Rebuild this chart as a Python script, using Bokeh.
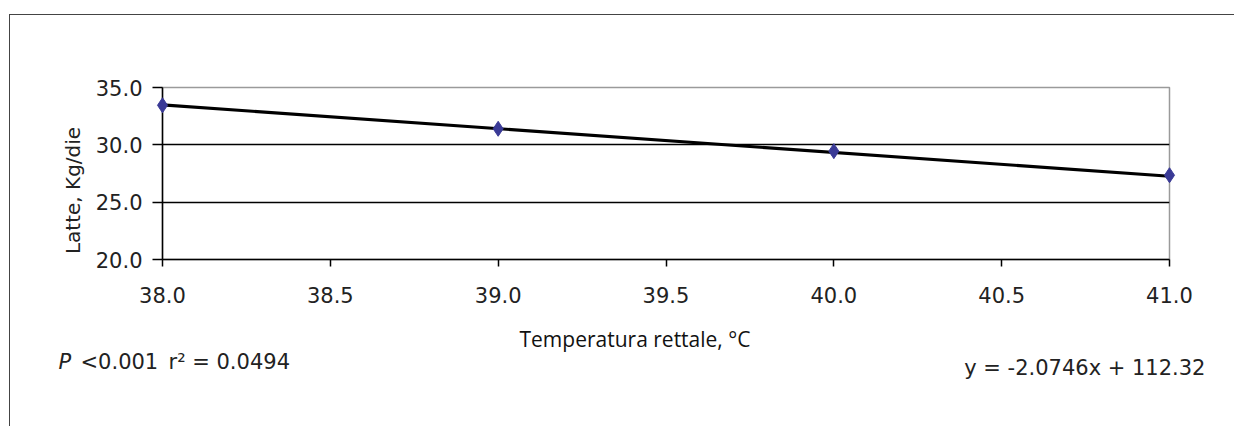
import math
from bokeh.plotting import figure
from bokeh.models import FixedTicker, Label, NumeralTickFormatter, Range1d
from bokeh.embed import file_html
from bokeh.resources import INLINE

# ---- data ----
temp_c = [38.0, 39.0, 40.0, 41.0]
milk_kg = [33.45, 31.4, 29.45, 27.35]
trend_x = [38.0, 41.0]
trend_y = [33.485, 27.261]          # y = -2.0746x + 112.32
x_ticks = [38.0, 38.5, 39.0, 39.5, 40.0, 40.5, 41.0]
y_ticks = [20.0, 25.0, 30.0, 35.0]
grid_y = [25.0, 30.0]
x_title = "Temperatura rettale, °C"
y_title = "Latte, Kg/die"
stat_p = "P"
stat_pval = "<0.001"
stat_r2 = "r² = 0.0494"
equation = "y = -2.0746x + 112.32"

SANS = "DejaVu Sans"
TXT = "#222222"

p = figure(width=1225, height=412, output_backend="svg", toolbar_location=None,
           x_range=Range1d(38.0, 41.0), y_range=Range1d(20.0, 35.0),
           min_border_left=152, min_border_right=66, min_border_top=72,
           min_border_bottom=168)
p.margin = (14, 0, 0, 9)
p.styles = {"border-top": "1.5px solid #444444", "border-left": "1.5px solid #444444"}
p.background_fill_color = "white"
p.border_fill_color = "white"
p.outline_line_color = "#9a9a9a"
p.outline_line_width = 1.5

# grid
p.xgrid.grid_line_color = None
p.ygrid.ticker = FixedTicker(ticks=grid_y)
p.ygrid.grid_line_color = "black"
p.ygrid.grid_line_width = 1.3

for ax in (p.xaxis, p.yaxis):
    ax.axis_line_color = "black"
    ax.axis_line_width = 1.5
    ax.major_tick_line_color = "black"
    ax.major_tick_line_width = 1.5
    ax.major_tick_in = 0
    ax.minor_tick_line_color = None
    ax.major_label_text_font = SANS
    ax.major_label_text_font_size = "21px"
    ax.major_label_text_color = TXT
    ax.formatter = NumeralTickFormatter(format="0.0")

p.xaxis.ticker = FixedTicker(ticks=x_ticks)
p.yaxis.ticker = FixedTicker(ticks=y_ticks)
p.xaxis.major_tick_out = 7
p.yaxis.major_tick_out = 10
p.xaxis.major_label_standoff = 20
p.yaxis.major_label_standoff = 10

# trend line and points (points on overlay level so edge markers are not clipped)
p.line(trend_x, trend_y, line_color="black", line_width=3.2)
p.scatter(temp_c, milk_kg, marker="diamond", size=15, fill_color="#3a3a96",
          line_color="#3a3a96", level="overlay")

# texts outside the frame: placed in side panels so they are not clipped
p.add_layout(Label(x=37.7319, y=26.02, text=y_title, angle=math.pi / 2,
                   text_align="center", text_baseline="middle", text_font=SANS,
                   text_font_size="20px", text_color=TXT), "left")
p.add_layout(Label(x=37.690, y=11.06, text=stat_p, text_font=SANS,
                   text_font_style="italic", text_font_size="21px",
                   text_baseline="alphabetic", text_color=TXT), "left")
p.add_layout(Label(x=39.4076, y=13.08, text=x_title, text_font="Open Sans",
                   text_align="center", text_font_size="21px",
                   text_baseline="alphabetic", text_color="#111111"), "below")
p.add_layout(Label(x=37.7557, y=11.06, text=stat_pval, text_font=SANS,
                   text_font_size="21px", text_baseline="alphabetic",
                   text_color=TXT), "below")
p.add_layout(Label(x=38.0179, y=11.06, text=stat_r2, text_font=SANS,
                   text_font_size="21px", text_baseline="alphabetic",
                   text_color=TXT), "above")
p.add_layout(Label(x=41.1072, y=10.58, text=equation, text_font=SANS,
                   text_align="right", text_font_size="21px",
                   text_baseline="alphabetic", text_color=TXT), "above")

open("out.html", "w").write(file_html(p, INLINE))
